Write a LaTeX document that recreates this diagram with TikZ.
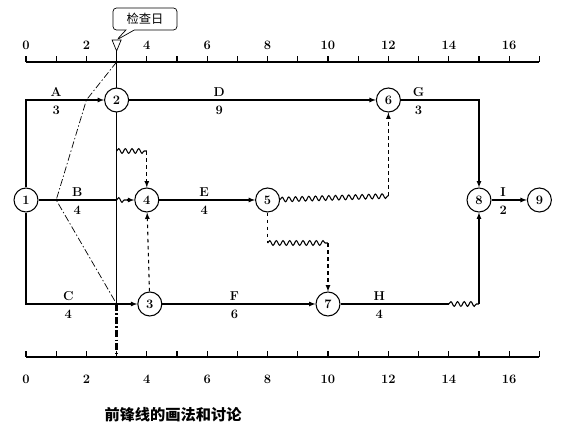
\documentclass[tikz,border=0pt]{standalone}
\usepackage{fontspec}
\newfontfamily\cjk{Noto Sans CJK SC}
\usepackage{tikz}
\usetikzlibrary{arrows}
\usetikzlibrary{shapes,shapes.callouts}
\usetikzlibrary{decorations.pathmorphing}
\usetikzlibrary{calc}
\tikzstyle{ev} = [circle, draw, fill=white, inner sep=0pt, minimum size=0.72cm, font=\bfseries\fontsize{11}{13}\selectfont]
\tikzstyle{lab} = [inner sep=0pt, font=\bfseries\fontsize{11}{13}\selectfont]
\tikzstyle{wave} = [decorate, decoration={snake, segment length=2mm, amplitude=0.7mm}]
\tikzstyle{front} = [dash pattern=on 6pt off 2pt on 1.2pt off 2pt]

\begin{document}
\begin{tikzpicture}[x=0.906cm, y=1cm, line width=0.9pt]
	\useasboundingbox (-0.861,0) rectangle (18.146,12.96);
	% time scales
	\draw (0,11.1) -- (17,11.1);
	\draw (0,2.25) -- (17,2.25);
	\foreach \t in {0,...,17} {
		\draw (\t,11.1) -- (\t,11.28);
		\draw (\t,2.25) -- (\t,2.43);
	}
	\foreach \t in {0,2,...,16} {
		\node[lab] (top\t) at (\t,11.61) {\t};
		\node[lab] (bot\t) at (\t,1.59) {\t};
	}
	% check day
	\coordinate (tri) at (3,11.43);
	\coordinate (tritop) at (3,11.76);
	\draw[line width=0.6pt] (tri) -- ++(-0.15,0.33) -- ++(0.3,0) -- cycle;
	\node[rectangle callout, draw, line width=0.6pt, rounded corners=3pt,
		callout absolute pointer={(tritop)}, minimum width=1.92cm, minimum height=0.66cm,
		font=\cjk\fontsize{10.5}{12}\selectfont] (chkday) at (3.94,12.39) {检查日};
	\coordinate (f0) at (3,11.1);
	\coordinate (f1) at (2,9.96);
	\coordinate (f2) at (1,6.96);
	\coordinate (f3) at (3,3.84);
	\coordinate (f4) at (3,2.25);
	\draw[line width=0.6pt] (tri) -- (f3);
	\draw[line width=0.6pt, front] (f0) -- (f1) -- (f2) -- (f3);
	\draw[line width=2pt, front] (f3) -- (f4);
	% events
	\node[ev] (n1) at (0,6.96) {1};
	\node[ev] (n2) at (3,9.96) {2};
	\node[ev] (n3) at (4.1,3.84) {3};
	\node[ev] (n4) at (4,6.96) {4};
	\node[ev] (n5) at (8,6.96) {5};
	\node[ev] (n6) at (12,9.96) {6};
	\node[ev] (n7) at (10,3.84) {7};
	\node[ev] (n8) at (15,6.96) {8};
	\node[ev] (n9) at (17,6.96) {9};
	\coordinate (b1) at (3,6.96);
	\coordinate (b2) at (3.35,6.96);
	\coordinate (h1) at (14,3.84);
	\coordinate (h2) at (15,3.84);
	\coordinate (d1) at (3,8.43);
	\coordinate (d2) at (4,8.43);
	\coordinate (d3) at (12,7.08);
	\coordinate (d4) at (8,5.67);
	\coordinate (d5) at (10,5.67);
	% works
	\draw[-latex] (n1) |- (n2);
	\draw (n1) -- (b1);
	\draw[wave] (b1) -- (b2);
	\draw[-latex] (b2) -- (n4);
	\draw[-latex] (n1) |- (n3);
	\draw[-latex] (n2) -- (n6);
	\draw[-latex] (n4) -- (n5);
	\draw[-latex] (n3) -- (n7);
	\draw[-latex] (n6) -| (n8);
	\draw (n7) -- (h1);
	\draw[wave] (h1) -- (h2);
	\draw[-latex] (h2) -- (n8);
	\draw[-latex] (n8) -- (n9);
	% dummies
	\draw[dashed] (n2) -- (d1);
	\draw[wave] (d1) -- (d2);
	\draw[dashed,-latex] (d2) -- (n4);
	\draw[dashed,-latex] (n3) -- (n4);
	\draw[wave] (n5) -- (d3);
	\draw[dashed,-latex] (d3) -- (n6);
	\draw[dashed] (n5) -- (d4);
	\draw[wave] (d4) -- (d5);
	\draw[dashed,-latex] (d5) -- (n7);
	% names and durations
	\foreach \nm/\x/\y/\d in {A/1/9.96/3, B/1.7/6.96/4, C/1.4/3.84/4, D/6.4/9.96/9,
		E/5.9/6.96/4, F/6.9/3.84/6, G/13/9.96/3, H/11.7/3.84/4, I/15.8/6.96/2} {
		\node[lab] (l\nm) at (\x,\y+0.23) {\nm};
		\node[lab] (t\nm) at (\x,\y-0.3) {\d};
	}
	\node[font=\cjk\bfseries\fontsize{13}{15}\selectfont] (cap) at (4.87,0.51) {前锋线的画法和讨论};
\end{tikzpicture}
\end{document}
